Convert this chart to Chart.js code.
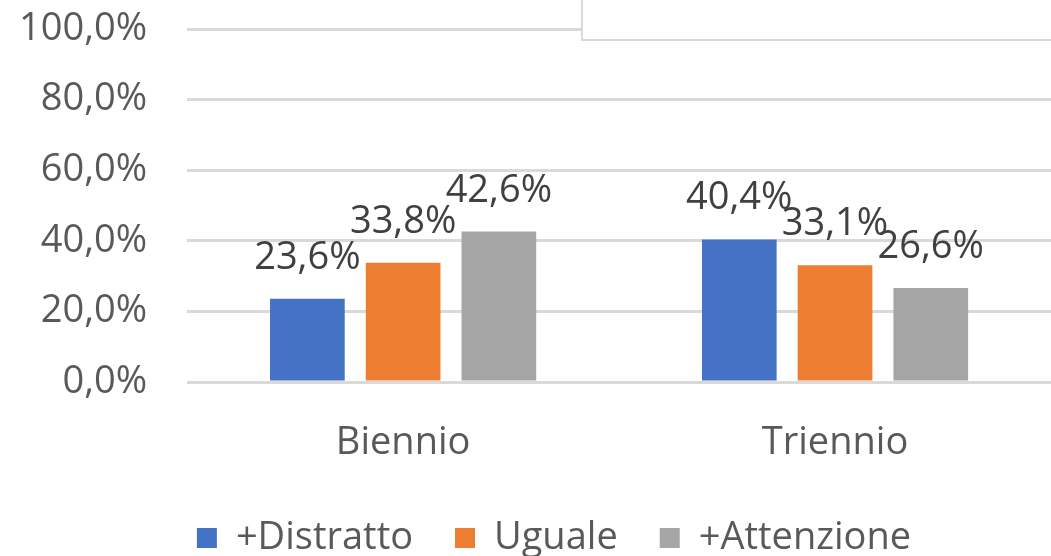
<!DOCTYPE html>
<html>
<head>
<meta charset="utf-8">
<script src="https://cdn.jsdelivr.net/npm/chart.js@4"></script>
<style>
    body { margin: 0; background: #fff; }
    #wrap { width: 1051px; height: 556px; }
</style>
</head>
<body>
<div id="wrap"><canvas id="barChart"></canvas></div>
<script>
// Chart data
const categories = ['Biennio', 'Triennio'];
const seriesNames = ['+Distratto', 'Uguale', '+Attenzione'];
const distratto = [23.6, 40.4];
const uguale = [33.8, 33.1];
const attenzione = [42.6, 26.6];
const yTicks = [0, 20, 40, 60, 80, 100];

const colors = ['#4472C4', '#ED7D31', '#A5A5A5'];

function fmt(v) {
    return v.toFixed(1).replace('.', ',') + '%';
}

Chart.defaults.font.family = "'Open Sans', sans-serif";
Chart.defaults.font.size = 38;
Chart.defaults.color = '#595959';

// Value labels above each bar
const valueLabels = {
    id: 'valueLabels',
    afterDatasetsDraw(chart) {
        const ctx = chart.ctx;
        ctx.save();
        ctx.font = "38px 'Open Sans', sans-serif";
        ctx.fillStyle = '#404040';
        ctx.textAlign = 'center';
        ctx.textBaseline = 'alphabetic';
        chart.data.datasets.forEach((ds, i) => {
            chart.getDatasetMeta(i).data.forEach((bar, j) => {
                ctx.fillText(fmt(ds.data[j]), bar.x, bar.y - 30);
            });
        });
        ctx.restore();
    }
};

// Empty title frame sitting at the top right
const frameBox = {
    id: 'frameBox',
    afterDraw(chart) {
        const ctx = chart.ctx;
        ctx.save();
        ctx.fillStyle = '#fff';
        ctx.fillRect(582, -5, 480, 45);
        ctx.strokeStyle = '#d9d9d9';
        ctx.lineWidth = 2;
        ctx.strokeRect(582, -5, 480, 45);
        ctx.restore();
    }
};

// nudge the legend a bit right, like the original
const legendShift = {
    id: 'legendShift',
    afterLayout(chart) {
        chart.legend.left += 22;
        chart.legend.right += 22;
    }
};

const sets = [distratto, uguale, attenzione];

new Chart(document.getElementById('barChart'), {
    type: 'bar',
    data: {
        labels: categories,
        datasets: sets.map((d, i) => ({
            label: seriesNames[i],
            data: d,
            backgroundColor: colors[i],
            categoryPercentage: 0.665,
            barPercentage: 0.78
        }))
    },
    options: {
        responsive: true,
        maintainAspectRatio: false,
        animation: false,
        layout: { padding: { top: 29, left: 13, right: 0, bottom: -11 } },
        scales: {
            x: {
                grid: { display: false },
                border: { display: false },
                ticks: { padding: 30, color: '#595959' },
                afterFit(axis) { axis.height = 95; }
            },
            y: {
                min: 0,
                max: 100,
                afterBuildTicks(axis) {
                    axis.ticks = yTicks.map(v => ({ value: v }));
                },
                grid: { color: '#d9d9d9', lineWidth: 3, tickLength: 34, tickColor: 'rgba(0,0,0,0)' },
                border: { display: false },
                ticks: { padding: 6, callback: v => fmt(v), color: '#595959' }
            }
        },
        plugins: {
            legend: {
                position: 'bottom',
                labels: { boxWidth: 20, boxHeight: 20, padding: 42, color: '#595959' }
            },
            tooltip: { enabled: false }
        }
    },
    plugins: [valueLabels, frameBox, legendShift]
});
</script>
</body>
</html>
